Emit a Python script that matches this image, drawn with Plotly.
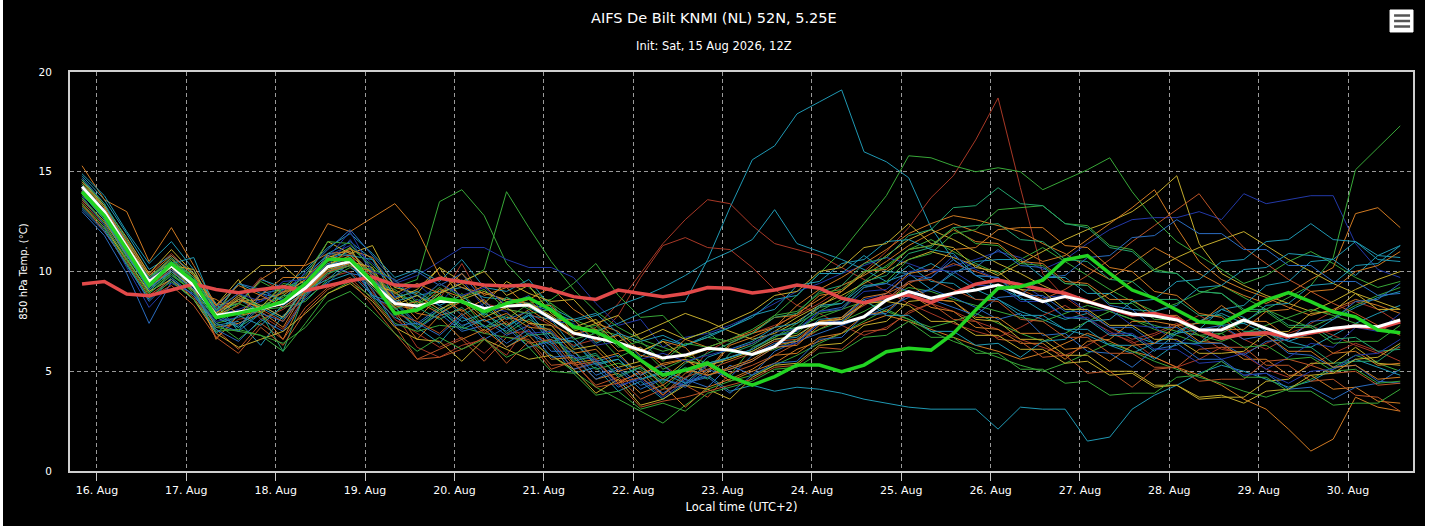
import pandas as pd
import plotly.graph_objects as go

# 6-hourly steps, local time (UTC+2), init Sat 15 Aug 2026 12Z
times = pd.date_range("2026-08-15 20:00", periods=60, freq="6h")

ens_mean = [14.25, 13.0, 11.24, 9.49, 10.3, 9.3, 7.8, 7.97, 8.15, 8.4,
            9.17, 10.24, 10.5, 9.4, 8.4, 8.27, 8.49, 8.49, 8.15, 8.27,
            8.32, 7.66, 6.91, 6.66, 6.43, 6.06, 5.66, 5.81, 6.15, 6.06,
            5.84, 6.23, 7.15, 7.4, 7.4, 7.73, 8.57, 8.99, 8.66, 8.91,
            9.07, 9.32, 8.91, 8.49, 8.74, 8.49, 8.15, 7.87, 7.77, 7.57,
            7.07, 7.07, 7.57, 7.15, 6.77, 6.98, 7.15, 7.27, 7.23, 7.57]

control = [14.0, 12.8, 11.1, 9.3, 10.4, 9.5, 7.7, 7.9, 8.15, 8.5,
           9.4, 10.6, 10.6, 9.5, 7.9, 8.07, 8.67, 8.5, 7.99, 8.4,
           8.67, 8.07, 7.23, 6.98, 6.4, 5.56, 4.81, 5.06, 5.4, 4.73,
           4.31, 4.73, 5.31, 5.31, 4.98, 5.31, 5.98, 6.15, 6.06, 6.9,
           8.07, 9.16, 9.24, 9.57, 10.58, 10.8, 9.91, 9.07, 8.66, 8.07,
           7.48, 7.4, 7.98, 8.57, 8.94, 8.49, 7.98, 7.73, 7.07, 6.93]

climate = [9.37, 9.5, 8.87, 8.79, 9.07, 9.37, 9.1, 8.94, 9.1, 9.24,
           9.04, 9.27, 9.54, 9.72, 9.32, 9.27, 9.66, 9.49, 9.32, 9.27,
           9.32, 9.07, 8.74, 8.6, 9.07, 8.9, 8.74, 8.9, 9.2, 9.16,
           8.92, 9.07, 9.32, 9.16, 8.66, 8.44, 8.74, 8.82, 8.44, 8.91,
           9.37, 9.57, 9.32, 9.1, 8.91, 8.5, 8.15, 7.82, 7.9, 7.65,
           7.07, 6.65, 6.87, 6.93, 6.73, 6.93, 7.1, 7.27, 7.15, 7.48]

members = [
    [14.6, 13.2, 11.0, 9.0, 10.0, 9.1, 7.6, 8.6, 8.0, 9.1, 9.5, 10.6, 11.0, 9.8, 8.6, 8.0, 8.9, 7.8, 8.4, 7.3,
     7.8, 7.6, 6.2, 7.0, 7.4, 7.9, 8.4, 8.5, 10.6, 13.2, 15.6, 16.3, 17.9, 18.5, 19.1, 16.0, 15.5, 14.7, 12.2, 10.6,
     9.8, 9.2, 8.7, 8.0, 7.6, 7.9, 7.2, 6.8, 6.4, 6.9, 7.5, 8.1, 7.7, 7.0, 6.5, 6.2, 6.8, 7.4, 7.9, 8.3],
    [13.9, 12.8, 11.4, 9.7, 10.6, 9.6, 8.1, 8.9, 7.6, 8.1, 8.9, 9.8, 10.9, 9.0, 7.6, 6.9, 6.2, 6.7, 5.9, 6.9,
     7.0, 6.4, 5.1, 5.5, 4.5, 4.9, 5.3, 4.6, 6.0, 6.6, 6.9, 7.3, 7.8, 8.4, 9.1, 10.0, 11.0, 12.2, 13.7, 14.8,
     16.6, 18.7, 14.2, 9.9, 8.7, 7.9, 7.2, 6.6, 6.9, 7.4, 6.8, 6.1, 5.9, 6.4, 6.9, 7.3, 6.8, 6.3, 5.9, 6.2],
    [14.0, 12.6, 10.9, 9.3, 10.1, 9.0, 6.7, 7.6, 7.8, 7.1, 8.8, 9.7, 10.0, 8.9, 7.9, 6.2, 5.7, 6.3, 6.6, 5.8,
     7.4, 6.9, 6.3, 6.6, 7.8, 9.7, 11.3, 11.7, 11.2, 11.1, 10.2, 9.1, 8.3, 7.9, 7.3, 6.8, 7.2, 7.9, 8.4, 8.0,
     7.5, 7.1, 6.6, 6.2, 5.8, 6.3, 6.9, 6.5, 5.7, 5.2, 5.6, 6.2, 5.8, 5.1, 4.7, 5.3, 5.9, 6.4, 6.0, 5.5],
    [14.3, 13.1, 11.6, 9.9, 10.9, 9.8, 8.2, 8.4, 9.7, 8.9, 9.6, 10.5, 10.9, 9.7, 8.5, 8.1, 8.6, 10.4, 8.4, 8.1,
     7.9, 7.3, 6.8, 7.2, 8.4, 9.9, 11.4, 12.6, 13.6, 13.4, 12.3, 11.4, 11.1, 10.8, 10.2, 9.6, 9.0, 8.4, 7.9, 7.4,
     7.0, 6.7, 7.2, 7.8, 8.3, 7.6, 7.0, 6.4, 6.8, 7.3, 7.8, 7.2, 6.6, 6.1, 6.7, 7.4, 8.0, 8.5, 8.1, 7.4],
    [13.8, 12.9, 11.1, 9.6, 10.5, 9.4, 7.9, 8.0, 8.3, 8.7, 9.4, 10.6, 11.2, 10.3, 9.2, 9.6, 13.5, 14.1, 12.8, 10.4,
     9.2, 8.4, 7.6, 7.1, 6.8, 6.4, 6.0, 6.3, 6.7, 6.5, 6.9, 7.8, 8.8, 9.9, 11.0, 12.4, 13.8, 15.8, 15.7, 15.3,
     15.0, 15.2, 15.0, 14.1, 14.6, 15.1, 15.7, 14.0, 12.6, 11.5, 10.8, 10.1, 9.4, 9.8, 10.5, 11.0, 10.4, 9.7, 9.2, 9.5],
    [14.5, 13.3, 11.5, 9.4, 10.2, 9.0, 7.4, 7.7, 8.1, 8.2, 9.0, 10.1, 10.6, 9.9, 8.9, 8.4, 8.9, 9.4, 10.1, 14.0,
     12.2, 10.5, 9.1, 8.0, 7.2, 6.6, 6.2, 5.8, 5.4, 5.7, 6.1, 6.7, 7.4, 8.0, 8.6, 9.5, 10.3, 11.1, 11.6, 11.0,
     10.4, 9.9, 10.6, 11.2, 10.5, 9.8, 9.1, 8.5, 8.0, 8.4, 8.9, 9.3, 8.7, 8.1, 7.6, 7.2, 7.7, 8.3, 8.8, 9.2],
    [13.6, 12.4, 10.6, 8.9, 9.8, 9.2, 7.8, 8.1, 8.5, 9.0, 9.9, 10.8, 11.3, 10.4, 9.4, 9.8, 10.5, 11.2, 11.2, 10.6,
     10.2, 10.2, 9.7, 8.4, 7.3, 7.6, 6.2, 6.7, 6.9, 7.3, 7.8, 8.4, 9.0, 9.4, 9.9, 10.3, 10.7, 10.4, 10.0, 10.3,
     10.6, 11.0, 10.7, 10.1, 10.6, 11.4, 12.1, 12.6, 12.7, 12.7, 13.0, 12.6, 13.9, 13.4, 13.6, 13.8, 13.8, 11.4, 10.1, 9.7],
    [14.8, 13.6, 11.9, 10.1, 10.8, 9.9, 8.4, 7.0, 8.9, 9.1, 9.7, 10.9, 11.5, 10.6, 9.3, 8.8, 9.0, 9.2, 8.7, 8.6,
     8.4, 8.0, 7.5, 7.8, 8.3, 8.7, 9.2, 9.8, 10.5, 11.0, 11.6, 13.1, 11.4, 11.0, 10.6, 10.1, 9.5, 9.9, 10.4, 9.8,
     9.1, 8.6, 8.0, 7.6, 7.1, 6.8, 6.3, 5.9, 6.4, 7.0, 7.5, 7.9, 7.4, 6.9, 6.5, 6.9, 7.6, 8.2, 8.7, 9.0],
    [13.2, 12.1, 10.3, 8.6, 9.7, 8.8, 7.3, 7.5, 6.3, 7.8, 8.6, 9.5, 9.9, 8.8, 7.7, 7.2, 6.4, 7.7, 7.3, 6.2,
     6.9, 6.3, 4.9, 5.2, 4.0, 4.5, 3.6, 4.4, 4.8, 4.0, 4.3, 4.0, 4.2, 4.1, 3.9, 3.6, 3.4, 3.2, 3.1, 3.1,
     3.1, 2.1, 3.2, 3.1, 3.1, 1.5, 1.7, 3.1, 3.8, 4.3, 4.9, 5.3, 5.0, 4.6, 4.2, 4.5, 5.1, 5.6, 5.2, 4.8],
    [14.1, 12.7, 10.9, 9.2, 10.0, 9.1, 7.2, 7.4, 7.9, 6.6, 8.9, 10.0, 10.4, 9.2, 8.0, 6.6, 7.8, 8.1, 7.0, 7.7,
     7.5, 6.9, 5.4, 5.6, 4.4, 5.0, 3.8, 4.9, 5.3, 4.5, 5.0, 5.4, 6.1, 6.5, 6.9, 7.4, 7.8, 7.5, 7.1, 6.7,
     6.3, 6.0, 5.6, 5.9, 6.4, 6.9, 6.5, 6.0, 5.7, 5.2, 4.8, 4.3, 3.6, 3.1, 2.1, 1.0, 1.6, 3.7, 3.2, 3.0],
    [13.7, 12.5, 10.8, 9.1, 9.9, 8.9, 7.4, 6.6, 7.5, 8.2, 8.5, 9.6, 10.2, 9.5, 8.2, 7.2, 7.9, 8.6, 7.2, 7.4,
     6.2, 6.6, 6.0, 5.1, 5.4, 5.1, 4.1, 5.1, 5.5, 4.8, 6.2, 6.7, 7.2, 7.7, 8.1, 8.5, 8.0, 7.6, 7.2, 7.5,
     7.9, 7.4, 6.9, 6.5, 6.9, 7.5, 8.0, 7.6, 7.1, 6.8, 6.4, 6.9, 7.5, 8.1, 8.7, 9.3, 10.7, 15.1, 16.2, 17.3],
    [15.3, 13.6, 13.0, 10.5, 12.2, 10.3, 8.3, 8.5, 8.6, 8.9, 10.4, 12.4, 12.0, 12.7, 13.4, 12.1, 9.8, 9.2, 8.9, 8.6,
     8.6, 9.2, 8.1, 7.4, 7.0, 6.0, 6.5, 6.2, 5.0, 6.4, 6.9, 7.2, 8.3, 9.1, 9.7, 10.4, 11.1, 11.9, 12.4, 12.8,
     12.6, 12.3, 12.0, 11.4, 10.9, 10.2, 9.6, 10.4, 11.2, 10.6, 9.9, 9.3, 8.8, 8.4, 8.9, 9.6, 10.2, 12.9, 13.2, 12.2],
    [14.0, 12.9, 11.3, 9.8, 10.4, 9.5, 7.9, 9.4, 10.3, 10.3, 9.3, 10.4, 10.7, 9.6, 8.6, 9.1, 10.2, 8.6, 9.0, 8.5,
     8.4, 7.8, 7.0, 7.4, 6.3, 6.0, 6.5, 5.7, 6.1, 6.0, 6.4, 7.0, 7.7, 8.3, 8.8, 9.4, 10.0, 10.6, 11.0, 10.7,
     10.3, 9.8, 10.4, 11.0, 11.6, 12.1, 12.5, 13.0, 13.8, 14.8, 11.4, 9.9, 9.3, 8.8, 8.4, 8.0, 8.5, 9.1, 9.6, 10.0],
    [14.4, 13.2, 11.4, 9.6, 10.7, 9.3, 6.6, 7.8, 8.0, 7.2, 9.1, 10.3, 10.8, 9.9, 8.8, 7.6, 8.8, 8.0, 8.6, 7.3,
     8.1, 7.4, 6.7, 5.6, 5.9, 4.8, 5.4, 5.6, 4.9, 6.3, 6.7, 7.2, 7.9, 8.6, 9.3, 9.8, 10.5, 11.3, 11.9, 12.4,
     12.0, 11.6, 11.1, 10.5, 10.8, 11.6, 12.4, 13.2, 14.1, 12.2, 10.5, 9.6, 9.1, 8.7, 8.2, 7.8, 8.1, 8.6, 8.3, 7.9],
    [13.5, 12.3, 10.5, 8.8, 9.6, 8.7, 7.1, 6.1, 7.4, 6.6, 8.2, 9.2, 9.7, 8.6, 7.3, 5.6, 6.1, 6.6, 5.5, 6.7,
     6.6, 5.3, 5.4, 4.3, 4.7, 3.6, 4.1, 4.3, 3.7, 4.9, 5.3, 5.8, 6.4, 7.1, 7.7, 8.3, 8.9, 9.4, 9.9, 10.4,
     10.0, 9.6, 9.1, 8.6, 9.1, 9.8, 10.6, 11.5, 12.3, 13.1, 13.9, 12.4, 11.2, 10.4, 9.6, 9.0, 8.4, 7.9, 7.3, 6.8],
    [14.2, 13.0, 11.2, 9.5, 10.2, 9.9, 7.7, 8.7, 8.2, 9.4, 9.2, 10.2, 10.5, 9.4, 9.1, 8.3, 9.2, 8.4, 8.1, 7.6,
     8.4, 8.6, 9.4, 10.4, 8.8, 7.7, 7.8, 6.6, 7.0, 6.0, 5.8, 6.1, 6.6, 7.1, 7.5, 8.0, 8.6, 9.2, 9.0, 8.6,
     8.3, 8.0, 7.7, 7.5, 7.9, 8.3, 8.0, 7.6, 7.3, 7.0, 6.8, 6.5, 6.9, 7.3, 7.7, 8.1, 7.8, 7.4, 7.1, 6.9],
    [13.9, 12.6, 10.7, 8.9, 9.9, 9.0, 7.0, 7.1, 6.8, 6.0, 7.4, 8.9, 9.5, 8.7, 7.4, 7.0, 7.3, 7.2, 6.9, 6.7,
     6.5, 5.8, 5.0, 4.2, 3.6, 3.0, 2.4, 3.3, 4.1, 4.5, 4.8, 5.3, 5.8, 6.4, 6.9, 7.5, 8.1, 7.6, 7.0, 6.5,
     6.1, 5.7, 5.3, 5.0, 5.4, 5.9, 6.4, 6.0, 5.5, 5.1, 4.7, 4.4, 4.0, 3.7, 4.1, 4.6, 5.2, 5.8, 5.4, 5.0],
    [14.6, 13.3, 11.7, 9.9, 11.1, 9.9, 8.3, 9.6, 7.9, 8.8, 9.6, 11.5, 10.9, 11.3, 9.2, 8.9, 10.2, 9.5, 10.0, 8.8,
     9.3, 7.9, 7.2, 7.6, 6.5, 6.9, 7.4, 7.9, 7.5, 7.0, 6.6, 6.9, 7.5, 8.2, 9.0, 9.9, 10.8, 11.6, 12.1, 11.6,
     11.0, 10.4, 9.9, 9.3, 8.8, 8.4, 8.9, 9.5, 10.1, 10.7, 11.2, 11.6, 12.0, 11.3, 10.6, 10.0, 9.4, 8.9, 8.5, 8.1],
    [13.0, 11.8, 9.9, 7.4, 9.5, 8.6, 7.1, 6.5, 7.6, 7.0, 8.7, 9.9, 10.3, 9.1, 7.3, 7.4, 6.8, 7.8, 6.6, 7.2,
     6.2, 6.5, 5.1, 5.4, 4.2, 4.7, 3.9, 4.6, 4.2, 5.3, 4.8, 6.0, 6.5, 6.9, 7.3, 7.7, 8.2, 8.7, 9.1, 8.7,
     8.2, 7.6, 7.9, 6.8, 6.9, 6.0, 5.9, 5.2, 6.1, 6.3, 7.1, 7.3, 6.6, 6.8, 5.9, 5.8, 5.2, 5.3, 4.5, 4.4],
    [14.9, 13.8, 12.0, 10.4, 11.5, 10.1, 8.0, 8.4, 9.6, 9.2, 10.1, 11.2, 11.9, 10.9, 9.7, 10.1, 9.5, 10.6, 9.2, 9.0,
     9.6, 8.2, 7.6, 7.9, 6.9, 6.5, 6.8, 6.3, 6.8, 7.2, 7.7, 8.6, 8.8, 9.9, 9.9, 10.8, 10.0, 9.9, 9.1, 9.9,
     10.5, 10.6, 10.6, 9.7, 9.7, 8.9, 8.9, 8.1, 8.0, 8.3, 9.2, 9.3, 10.1, 10.2, 10.9, 10.8, 10.6, 9.8, 10.8, 11.3],
    [13.6, 12.5, 10.8, 9.2, 10.1, 9.4, 7.8, 8.3, 9.6, 10.3, 10.3, 10.9, 11.0, 9.9, 8.6, 7.9, 7.7, 6.6, 7.1, 6.2,
     6.8, 5.6, 5.7, 4.6, 4.9, 3.9, 4.3, 3.2, 4.2, 4.6, 5.1, 5.8, 5.9, 6.7, 6.9, 7.8, 8.0, 8.9, 8.2, 8.0,
     7.2, 7.1, 6.4, 6.4, 5.6, 6.5, 6.6, 7.5, 7.5, 7.3, 6.5, 6.4, 5.6, 5.6, 4.8, 4.8, 4.1, 4.2, 3.5, 3.4],
    [14.7, 13.4, 11.3, 9.3, 10.4, 9.6, 8.2, 9.4, 9.1, 8.5, 10.0, 11.1, 12.1, 10.8, 9.5, 10.0, 9.3, 9.9, 8.5, 7.6,
     8.0, 6.5, 6.7, 5.5, 5.8, 4.8, 5.3, 4.4, 4.7, 3.9, 4.8, 5.4, 5.5, 6.6, 6.7, 7.8, 7.9, 8.9, 9.1, 10.0,
     10.2, 11.1, 10.3, 10.2, 9.4, 9.3, 8.3, 8.1, 7.2, 7.2, 6.4, 6.4, 5.8, 6.5, 6.6, 7.5, 7.6, 8.5, 8.6, 9.4],
    [14.0, 12.8, 11.0, 9.7, 10.7, 9.7, 8.0, 7.2, 7.9, 6.0, 9.0, 10.0, 10.4, 9.2, 8.2, 7.1, 8.1, 7.2, 8.0, 6.9,
     7.6, 7.0, 5.6, 5.9, 4.7, 5.2, 4.5, 5.2, 4.6, 5.9, 6.3, 7.0, 7.2, 8.2, 8.4, 9.5, 9.8, 10.9, 11.2, 12.2,
     12.3, 12.4, 11.6, 11.5, 10.6, 10.5, 9.6, 9.5, 8.6, 8.6, 7.8, 7.8, 7.0, 7.0, 6.2, 6.2, 5.4, 5.5, 5.5, 6.3],
    [13.3, 12.2, 10.6, 9.0, 9.6, 8.6, 6.9, 6.2, 6.6, 7.0, 7.9, 8.9, 9.4, 8.5, 7.2, 6.6, 6.5, 5.5, 6.6, 6.1,
     5.6, 5.8, 5.1, 3.9, 4.6, 3.3, 3.6, 4.3, 4.1, 3.6, 4.7, 5.3, 5.4, 6.3, 6.4, 7.3, 7.5, 8.5, 8.6, 8.5,
     7.6, 7.5, 6.6, 6.6, 5.8, 5.8, 5.0, 5.0, 4.3, 4.3, 3.6, 3.7, 3.7, 4.5, 4.6, 5.4, 5.4, 6.2, 5.4, 5.3],
    [14.3, 13.0, 11.1, 9.5, 10.4, 10.7, 8.0, 9.4, 8.9, 8.6, 9.3, 10.9, 10.8, 10.6, 8.7, 9.0, 8.3, 8.8, 7.8, 8.7,
     8.2, 7.6, 7.6, 6.4, 6.9, 5.7, 6.6, 6.3, 6.7, 7.2, 7.8, 8.1, 9.3, 9.5, 10.4, 10.6, 11.5, 11.6, 11.1, 10.9,
     9.8, 9.7, 8.6, 8.6, 7.7, 7.6, 6.8, 6.8, 6.0, 6.9, 7.1, 8.1, 8.3, 9.3, 9.5, 10.5, 10.6, 11.5, 10.8, 10.7],
    [13.8, 12.3, 10.2, 8.2, 9.4, 8.9, 7.5, 7.7, 8.9, 8.2, 9.0, 10.3, 11.6, 9.9, 8.7, 9.4, 8.4, 9.6, 8.2, 8.0,
     6.9, 7.0, 5.7, 5.6, 4.3, 4.6, 3.7, 4.5, 4.8, 5.1, 5.5, 6.2, 6.4, 7.4, 7.6, 8.6, 8.9, 9.8, 9.7, 10.8,
     10.1, 9.6, 9.4, 8.7, 8.8, 8.0, 8.1, 7.3, 7.2, 6.5, 6.3, 5.6, 5.9, 5.1, 5.7, 6.4, 6.2, 7.2, 7.0, 7.9],
    [13.4, 12.0, 10.4, 8.7, 9.3, 8.3, 6.7, 5.9, 7.2, 6.3, 8.0, 9.1, 9.6, 8.3, 6.9, 5.6, 5.7, 6.1, 6.7, 5.4,
     6.5, 5.1, 5.5, 4.2, 4.4, 3.2, 3.5, 3.7, 4.0, 4.3, 4.6, 5.2, 5.3, 6.2, 6.1, 7.0, 7.1, 8.0, 8.4, 7.6,
     7.5, 6.6, 6.5, 5.7, 5.8, 4.9, 5.0, 4.2, 5.1, 5.2, 6.1, 6.2, 6.2, 5.3, 5.3, 4.5, 4.6, 3.8, 3.7, 3.0],
    [14.4, 13.1, 11.3, 9.6, 10.6, 9.7, 8.1, 8.4, 9.5, 8.9, 9.8, 11.5, 11.4, 10.1, 9.6, 8.4, 9.4, 8.7, 9.1, 8.1,
     7.9, 8.1, 6.6, 6.9, 5.7, 6.2, 5.1, 5.6, 5.3, 5.7, 6.1, 6.8, 6.9, 7.9, 8.1, 9.2, 9.5, 10.6, 10.9, 11.9,
     12.1, 13.1, 13.2, 13.3, 12.4, 12.3, 11.3, 11.1, 10.1, 9.9, 9.0, 8.9, 8.0, 8.0, 7.2, 7.2, 6.4, 6.5, 6.5, 7.3],
    [14.1, 12.9, 11.0, 9.3, 10.3, 9.0, 8.6, 7.9, 8.1, 9.0, 9.1, 10.0, 10.3, 10.0, 8.3, 8.1, 9.1, 8.7, 9.3, 8.2,
     8.6, 7.5, 7.6, 6.5, 6.8, 5.8, 5.6, 6.6, 6.2, 6.6, 7.0, 7.7, 7.8, 8.8, 9.0, 10.0, 10.1, 11.1, 11.3, 12.1,
     11.5, 11.4, 10.5, 10.4, 9.5, 9.4, 8.6, 8.6, 7.8, 7.8, 7.0, 7.1, 7.1, 8.0, 8.1, 9.0, 9.1, 10.0, 10.3, 11.0],
    [14.0, 12.7, 10.9, 9.1, 10.1, 9.3, 7.8, 7.3, 8.3, 7.7, 9.3, 10.4, 9.9, 9.7, 8.5, 7.4, 8.2, 7.3, 7.6, 6.8,
     7.3, 6.0, 6.0, 4.8, 5.2, 4.3, 4.6, 4.2, 5.1, 4.7, 5.8, 6.4, 6.5, 7.4, 7.5, 8.4, 8.6, 9.5, 9.7, 10.6,
     9.8, 9.7, 8.8, 8.8, 8.0, 8.0, 7.2, 7.2, 6.4, 6.4, 5.6, 5.6, 4.8, 4.9, 4.1, 4.2, 3.6, 4.2, 4.4, 5.1],
    [14.2, 13.0, 11.2, 9.4, 10.3, 10.1, 7.9, 8.8, 8.3, 7.7, 9.2, 10.2, 11.2, 9.3, 9.0, 8.0, 8.9, 9.4, 8.4, 9.5,
     8.9, 8.5, 8.6, 7.4, 7.8, 6.6, 7.1, 6.6, 7.0, 7.5, 8.0, 8.8, 9.0, 10.0, 10.2, 11.2, 11.4, 12.4, 11.4, 11.2,
     10.2, 10.0, 9.1, 9.0, 8.1, 8.1, 7.3, 7.3, 6.6, 6.6, 5.9, 5.9, 6.0, 6.9, 7.0, 7.9, 8.0, 8.9, 8.1, 8.1],
    [13.9, 12.6, 10.8, 9.2, 10.0, 9.1, 6.9, 7.8, 7.3, 8.3, 9.1, 9.6, 10.6, 8.8, 8.4, 7.3, 8.1, 7.1, 7.6, 7.0,
     7.8, 6.4, 6.5, 5.3, 5.6, 4.6, 5.0, 4.6, 5.7, 6.1, 6.5, 7.2, 7.4, 8.3, 8.4, 9.3, 9.4, 10.3, 9.5, 9.4,
     8.6, 8.6, 7.8, 7.8, 7.1, 7.1, 6.3, 6.3, 5.6, 6.4, 6.4, 7.3, 7.4, 8.3, 8.4, 9.3, 9.4, 10.3, 10.4, 11.3],
    [14.6, 13.4, 11.6, 9.7, 10.5, 9.7, 8.1, 8.9, 8.2, 8.8, 8.8, 10.0, 10.6, 9.6, 7.8, 8.2, 7.6, 8.2, 7.2, 7.8,
     6.8, 6.9, 5.5, 5.8, 4.8, 5.2, 4.4, 5.4, 5.9, 6.4, 6.9, 7.7, 7.9, 9.0, 9.3, 10.4, 10.7, 11.8, 12.1, 13.2,
     13.3, 14.2, 13.4, 13.3, 12.4, 12.2, 11.2, 11.0, 10.0, 9.9, 9.0, 8.9, 8.1, 8.1, 7.3, 7.3, 6.6, 6.7, 6.0, 6.1],
    [14.5, 13.2, 11.5, 9.8, 10.8, 9.8, 8.3, 9.3, 8.8, 9.7, 9.7, 10.7, 11.1, 10.7, 8.9, 9.4, 8.9, 9.9, 8.8, 9.2,
     8.2, 8.3, 6.9, 7.1, 6.0, 6.2, 5.3, 5.6, 4.8, 5.1, 5.5, 6.2, 6.3, 7.3, 7.4, 8.4, 8.5, 9.4, 8.6, 8.5,
     7.7, 7.7, 6.9, 6.9, 6.1, 6.2, 5.5, 6.3, 6.4, 7.3, 7.4, 8.3, 7.5, 7.5, 6.7, 6.7, 5.9, 6.0, 5.3, 5.4],
    [13.1, 12.0, 10.4, 8.5, 9.6, 8.8, 7.4, 7.0, 7.9, 7.5, 8.9, 9.4, 10.5, 8.7, 8.2, 7.1, 7.9, 7.0, 7.3, 6.4,
     7.1, 5.7, 5.8, 4.6, 5.1, 4.1, 4.6, 4.3, 5.3, 5.7, 6.1, 6.8, 7.0, 8.0, 8.2, 9.2, 9.4, 9.0, 8.6, 8.2,
     7.8, 8.7, 8.8, 9.7, 9.8, 10.7, 10.8, 11.7, 11.8, 12.6, 11.9, 11.9, 11.1, 11.1, 10.3, 10.3, 9.5, 9.5, 8.8, 8.9],
    [14.2, 12.9, 11.1, 9.5, 10.2, 9.3, 7.9, 8.7, 8.1, 7.5, 9.0, 10.0, 10.3, 9.8, 7.9, 7.5, 6.9, 7.9, 6.9, 7.5,
     6.4, 6.6, 5.3, 5.5, 4.4, 4.7, 3.8, 4.7, 5.1, 5.5, 5.9, 6.5, 6.6, 7.5, 7.6, 8.5, 8.6, 9.5, 9.6, 9.1,
     8.6, 8.5, 7.6, 7.5, 6.7, 6.7, 5.9, 5.9, 5.2, 5.2, 4.5, 4.6, 4.6, 5.5, 5.6, 5.3, 4.9, 5.0, 4.3, 4.4],
    [13.7, 12.4, 10.6, 8.9, 9.8, 9.0, 7.6, 8.4, 7.9, 9.2, 8.9, 9.9, 10.3, 10.1, 8.1, 8.6, 8.0, 8.9, 7.8, 8.7,
     8.1, 8.4, 7.1, 7.3, 6.2, 6.5, 5.5, 6.4, 6.2, 6.6, 7.1, 7.8, 8.0, 8.9, 9.1, 10.0, 10.2, 11.1, 11.3, 12.2,
     11.4, 11.3, 10.4, 10.3, 9.4, 9.3, 8.4, 8.4, 7.6, 7.6, 6.8, 6.9, 6.2, 6.3, 5.6, 5.7, 5.0, 5.1, 4.4, 4.5],
    [14.1, 12.9, 11.0, 9.3, 10.2, 9.2, 7.7, 7.2, 8.2, 7.6, 9.2, 10.3, 10.7, 9.6, 8.5, 8.8, 8.3, 7.5, 7.9, 7.2,
     7.9, 6.7, 6.5, 5.4, 5.6, 4.6, 4.9, 4.4, 5.4, 5.7, 6.0, 6.6, 6.7, 7.6, 7.7, 8.6, 7.8, 7.8, 7.0, 7.0,
     6.3, 6.4, 5.7, 6.5, 6.6, 7.5, 7.6, 8.5, 8.6, 9.5, 9.6, 10.5, 10.6, 11.5, 11.6, 12.4, 11.6, 11.5, 10.6, 10.5],
    [13.9, 12.8, 11.1, 9.4, 10.2, 9.3, 7.8, 8.6, 8.2, 9.3, 9.1, 10.8, 10.5, 10.2, 8.3, 8.8, 8.1, 8.6, 7.7, 8.2,
     7.4, 7.3, 6.1, 6.3, 5.2, 5.5, 4.6, 5.5, 5.3, 5.6, 6.0, 6.6, 6.8, 7.5, 7.6, 8.4, 8.5, 8.3, 7.5, 7.5,
     6.8, 6.8, 6.1, 6.1, 5.4, 5.5, 4.8, 4.9, 4.2, 4.3, 3.7, 3.8, 3.4, 4.0, 4.1, 4.8, 4.9, 5.6, 5.7, 6.4],
    [14.3, 13.1, 11.3, 9.6, 10.4, 9.5, 8.0, 8.9, 8.5, 9.5, 9.6, 10.7, 12.0, 10.0, 9.6, 8.5, 9.4, 8.8, 9.2, 8.3,
     8.8, 7.5, 7.4, 6.3, 6.5, 5.6, 5.9, 5.5, 5.8, 6.1, 6.4, 7.0, 7.1, 8.0, 8.1, 9.0, 9.1, 10.0, 10.1, 10.0,
     9.3, 9.3, 8.5, 8.5, 7.7, 7.7, 6.9, 6.9, 6.1, 6.1, 5.4, 5.5, 4.8, 4.9, 4.4, 5.0, 5.1, 5.8, 5.9, 6.6],
    [13.4, 12.2, 10.4, 8.7, 9.5, 8.6, 7.2, 7.0, 6.8, 6.4, 7.2, 8.5, 9.0, 8.0, 6.9, 6.0, 6.7, 6.1, 6.6, 5.7,
     6.2, 5.0, 4.9, 3.8, 4.0, 3.1, 3.4, 3.0, 3.9, 4.2, 4.5, 5.1, 5.2, 5.9, 6.0, 6.7, 6.8, 7.5, 6.7, 6.7,
     5.9, 5.9, 5.1, 5.1, 4.4, 4.5, 3.8, 3.9, 3.9, 4.7, 4.8, 5.5, 4.7, 4.7, 4.0, 4.0, 3.3, 3.4, 3.4, 4.1],
    [14.0, 12.8, 11.1, 9.4, 10.3, 9.4, 7.7, 7.9, 8.8, 8.2, 9.0, 10.1, 10.4, 9.3, 8.2, 8.5, 7.9, 8.5, 7.5, 7.9,
     7.2, 7.1, 5.9, 6.1, 5.0, 5.3, 4.3, 5.1, 4.8, 5.2, 5.6, 6.3, 6.5, 7.5, 7.7, 8.7, 8.9, 9.9, 10.1, 11.1,
     11.2, 12.1, 12.2, 12.2, 11.3, 11.2, 10.2, 10.0, 9.0, 8.8, 7.9, 7.7, 6.8, 6.8, 6.0, 6.0, 5.2, 5.3, 4.6, 4.7],
]

GREEN, BLUE, TEAL, ORANGE = "#38a838", "#2a6cc0", "#1f98b3", "#d07a22"
YELLOW, RUST, DARKRED, NAVY, SEA = "#c4ac2c", "#bb5426", "#a83826", "#2339a8", "#24a36e"
member_colors = [TEAL, DARKRED, DARKRED, DARKRED, GREEN, GREEN, NAVY, TEAL, TEAL, ORANGE,
                 GREEN, ORANGE, YELLOW, ORANGE, RUST, GREEN, GREEN, YELLOW, BLUE, TEAL,
                 ORANGE, BLUE, SEA, YELLOW, TEAL, NAVY, RUST, GREEN, ORANGE, BLUE,
                 YELLOW, TEAL, SEA, ORANGE, BLUE, RUST, GREEN, TEAL, YELLOW, NAVY,
                 GREEN, ORANGE]

fig = go.Figure()

for vals, col in zip(members, member_colors):
    fig.add_trace(go.Scatter(x=times, y=vals, mode="lines",
                             line=dict(color=col, width=1),
                             hoverinfo="skip", showlegend=False))

fig.add_trace(go.Scatter(x=times, y=climate, mode="lines", name="Climate",
                         line=dict(color="#e24a4a", width=3.5), showlegend=False))
fig.add_trace(go.Scatter(x=times, y=ens_mean, mode="lines", name="Mean",
                         line=dict(color="#ffffff", width=3), showlegend=False))
fig.add_trace(go.Scatter(x=times, y=control, mode="lines", name="Control",
                         line=dict(color="#22d422", width=3.5), showlegend=False))

font = "DejaVu Sans, Verdana, sans-serif"
fig.update_layout(
    width=1422, height=526,
    paper_bgcolor="#000000", plot_bgcolor="#000000",
    margin=dict(l=67, r=10, t=72, b=55),
    font=dict(family=font, color="#ffffff", size=10),
    showlegend=False,
    xaxis=dict(
        type="date",
        range=["2026-08-15 16:46", "2026-08-30 17:26"],
        tick0="2026-08-16", dtick=86400000, tickformat="%-d. %b",
        ticks="outside", ticklen=8, tickcolor="#c8c8c8", tickwidth=1,
        showgrid=True, gridcolor="#9a9a9a", gridwidth=1, griddash="4px,3px",
        showline=True, linecolor="#cfcfcf", linewidth=2, mirror=True,
        zeroline=False,
        tickfont=dict(size=11, color="#ffffff"),
        title=dict(text="Local time (UTC+2)", font=dict(size=11.5, color="#ffffff"), standoff=7),
    ),
    yaxis=dict(
        range=[0, 20], tick0=0, dtick=5,
        ticks="outside", ticklen=14, tickcolor="rgba(0,0,0,0)",
        showgrid=True, gridcolor="#9a9a9a", gridwidth=1, griddash="4px,3px",
        showline=True, linecolor="#cfcfcf", linewidth=2, mirror=True,
        zeroline=False,
        tickfont=dict(size=10.5, color="#ffffff"),
        title=dict(text="850 hPa Temp. (°C)", font=dict(size=10, color="#ffffff"), standoff=9),
    ),
    annotations=[
        dict(text="AIFS De Bilt KNMI (NL) 52N, 5.25E", xref="paper", yref="paper",
             x=0.4795, y=1, yanchor="middle", yshift=54, showarrow=False,
             font=dict(size=14.5, color="#ffffff", family=font)),
        dict(text="Init: Sat, 15 Aug 2026, 12Z", xref="paper", yref="paper",
             x=0.4795, y=1, yanchor="middle", yshift=26, showarrow=False,
             font=dict(size=11.5, color="#ffffff", family=font)),
    ],
    shapes=[
        dict(type="rect", xref="paper", yref="paper", x0=0.9829, x1=1.0, y0=1.1003, y1=1.1554,
             fillcolor="#ffffff", line=dict(color="#ffffff", width=1), layer="above"),
        dict(type="line", xref="paper", yref="paper", x0=0.9859, x1=0.9978, y0=1.1416, y1=1.1416,
             line=dict(color="#555555", width=2.5)),
        dict(type="line", xref="paper", yref="paper", x0=0.9859, x1=0.9978, y0=1.1278, y1=1.1278,
             line=dict(color="#555555", width=2.5)),
        dict(type="line", xref="paper", yref="paper", x0=0.9859, x1=0.9978, y0=1.1140, y1=1.1140,
             line=dict(color="#555555", width=2.5)),
    ],
)

fig.write_html("out.html", config={"displayModeBar": False},
               post_script="document.body.style.margin='0';document.body.style.padding='0 0 0 3px';"
                           "document.body.style.background='#ffffff';")
